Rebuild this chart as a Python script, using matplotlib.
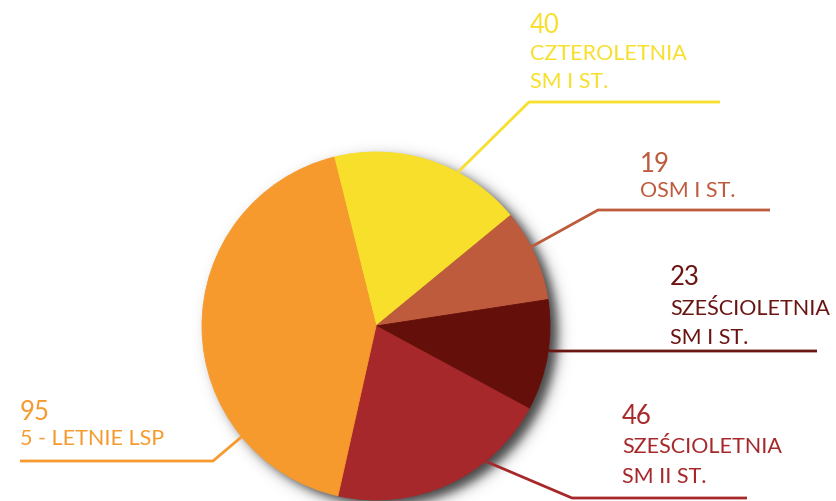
import numpy as np
import matplotlib
matplotlib.use("Agg")
import matplotlib.pyplot as plt

# ---- data ----
values = [40, 19, 23, 46, 95]
labels = ["CZTEROLETNIA\nSM I ST.", "OSM I ST.", "SZEŚCIOLETNIA\nSM I ST.",
          "SZEŚCIOLETNIA\nSM II ST.", "5 - LETNIE LSP"]
colors = ["#F7DF2B", "#BD5B3C", "#650F0A", "#A6282A", "#F79A2E"]
text_colors = ["#F7DF2B", "#BD5B3C", "#6A1512", "#A6282A", "#F79A2E"]

# ---- layout (pixel coords, y measured from top) ----
W, H = 836, 502
CX, CY, R = 376, 327, 174
# leader: anchor angle on pie (deg, screen), elbow point, end x
leaders = [
    (62, (529, 103), 720),
    (27, (598, 211), 770),
    (-8, (551, 352), 817),
    (-51, (572, 499), 747),
    (219.5, (213, 462), 20),
]
# text position: x, number baseline, first label baseline, line spacing
texts = [
    (530, 33, 60, 28),
    (640, 172, 197, 28),
    (670, 285, 315, 29),
    (622, 424, 453, 30),
    (20, 420, 445, 28),
]

fig = plt.figure(figsize=(W / 100, H / 100), dpi=100)
ax = fig.add_axes([0, 0, 1, 1])

def Y(y):
    return H - y

# shadow
xs = np.arange(W) + 0.5
ys = np.arange(H) + 0.5
XX, YY = np.meshgrid(xs, ys)
d = np.hypot(XX - (CX + 8), YY - (CY + 6))
alpha = 0.9 * 0.5 * (1 - np.tanh((d - R) / 7.0))
img = np.zeros((H, W, 4))
img[..., 0] = img[..., 1] = img[..., 2] = 0.18
img[..., 3] = alpha
ax.imshow(img, extent=[0, W, 0, H], origin="upper", zorder=1, interpolation="bilinear")

wedges, _ = ax.pie(values, center=(CX, Y(CY)), radius=R, startangle=104,
                   counterclock=False, colors=colors, frame=True)
for w, c in zip(wedges, colors):
    w.set_zorder(3)
    w.set_edgecolor(c)
    w.set_linewidth(0.6)
ax.set_xlim(0, W)
ax.set_ylim(0, H)
ax.set_aspect("equal")
ax.axis("off")

FONT = "Lato"
for (ang, (ex, ey), endx), (tx, nb, lb, ls), val, lab, tc in zip(
        leaders, texts, values, labels, text_colors):
    a = np.deg2rad(ang)
    sx, sy = CX + R * np.cos(a), CY - R * np.sin(a)
    ax.plot([sx, ex, endx], [Y(sy), Y(ey), Y(ey)], color=tc, lw=2.0,
            solid_capstyle="butt", zorder=2)
    ax.text(tx, Y(nb), str(val), color=tc, fontsize=18.5, family=FONT,
            va="baseline", ha="left", zorder=5)
    for i, line in enumerate(lab.split("\n")):
        ax.text(tx, Y(lb + i * ls), line, color=tc, fontsize=15.5, family=FONT,
                va="baseline", ha="left", zorder=5)

fig.savefig("out.png", dpi=100, facecolor="white")
